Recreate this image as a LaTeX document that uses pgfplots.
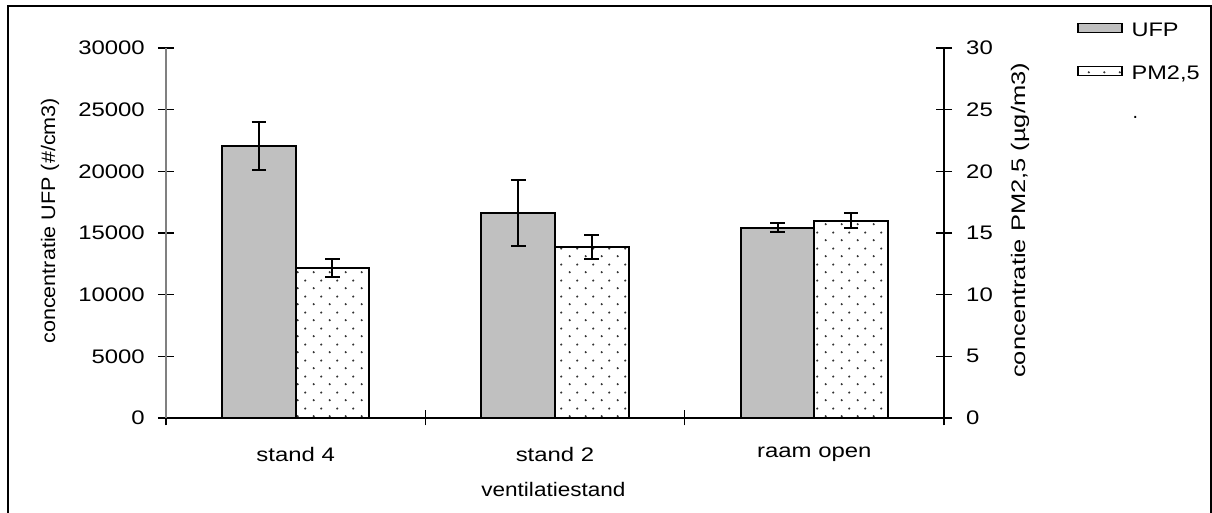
\documentclass[border=0pt]{standalone}
\usepackage{fontspec}
\setmainfont{Liberation Sans}
\usepackage{graphicx}
\usepackage{pgfplots}
\pgfplotsset{compat=1.18}
\usetikzlibrary{patterns}

% sparse dot fill for the PM2,5 bars
\pgfdeclarepatternformonly{sparsedots}{\pgfpointorigin}{\pgfpoint{7.75pt}{7.8pt}}{\pgfpoint{7.75pt}{7.8pt}}{%
  \pgfpathcircle{\pgfpoint{1.9pt}{1.95pt}}{0.6pt}%
  \pgfpathcircle{\pgfpoint{5.8pt}{5.85pt}}{0.6pt}%
  \pgfusepath{fill}}

\definecolor{ufpgray}{RGB}{192,192,192}
\newcommand{\chartfont}{\fontsize{9.8}{11.5}\selectfont}
\newcommand{\wide}[1]{\scalebox{1.2}[1]{#1}}

\pgfplotsset{
  ufpbar/.style={fill=ufpgray, draw=black, line width=1pt},
  pmbar/.style={fill=white, draw=black, line width=1pt,
    postaction={pattern=sparsedots, pattern color=black!80}},
  chartbase/.style={
    at={(0,0)}, anchor=south west,
    scale only axis, width=389pt, height=185pt,
    xmin=-0.5, xmax=2.5, ymin=0,
    ybar, bar width=0.2835,
    tick align=center, major tick length=8pt, minor tick length=7.5pt,
    tick style={black, line width=0.6pt},
    every tick label/.append style={font=\chartfont, xscale=1.22},
    label style={font=\chartfont},
    /pgf/number format/assume math mode=true,
    /pgf/number format/1000 sep={},
    scaled y ticks=false,
    error bars/error bar style={line width=1pt, black},
    error bars/error mark options={rotate=90, mark size=3.67pt, line width=1pt, black},
  },
}

\begin{document}
\begin{tikzpicture}
% left axis: UFP
\begin{axis}[chartbase,
  axis y line*=left, axis x line*=bottom,
  ymax=30000, ytick distance=5000,
  y axis line style={draw=black!50, line width=0.8pt},
  x axis line style={draw=black, line width=0.6pt},
  yticklabel shift=2.3pt,
  xtick={0,1,2}, xticklabels={stand 4, stand 2, raam open},
  major x tick style={draw=none},
  minor xtick={-0.5,0.5,1.5,2.5},
  xticklabel shift=7pt,
  ylabel={concentratie UFP (\#/cm3)},
  ylabel style={at={(axis description cs:-0.1491,0.533)}, anchor=center, xscale=1.1},
  xlabel={ventilatiestand},
  xlabel style={at={(axis description cs:0.498,-0.2127)}, anchor=base, xscale=1.15},
]
\addplot[ufpbar, bar shift=-0.14175,
  error bars/.cd, y dir=both, y explicit]
  coordinates {(0,22080) +- (0,1945) (1,16600) +- (0,2680) (2,15440) +- (0,365)};
\end{axis}

% right axis: PM2,5
\begin{axis}[chartbase,
  axis y line*=right, axis x line=none,
  ymax=30, ytick distance=5,
  y axis line style={draw=black, line width=0.8pt},
  yticklabel shift=2.8pt,
  ylabel={concentratie PM2,5 (µg/m3)},
  ylabel style={at={(axis description cs:1.0977,0.5343)}, anchor=center, xscale=1.3},
  legend style={at={(axis description cs:1.171,1.068)}, anchor=north west,
    draw=none, fill=none, inner sep=0pt, font=\chartfont,
    row sep=13pt, column sep=4.5pt, nodes={inner sep=0pt}},
  legend cell align=left,
  legend image code/.code={\draw[#1, line width=0.6pt] (0pt,-0.6pt) rectangle (22pt,3.9pt);},
]
\addlegendimage{ufpbar}
\addlegendentry{\wide{UFP}}
\addplot[pmbar, bar shift=0.14175,
  error bars/.cd, y dir=both, y explicit]
  coordinates {(0,12.2) +- (0,0.73) (1,13.86) +- (0,0.99) (2,15.99) +- (0,0.61)};
\addlegendentry{\wide{PM2,5}}
\addlegendimage{empty legend}
\addlegendentry{\raisebox{-5pt}{\hspace*{0.5pt}.}}
\end{axis}

% outer chart frame
\draw[line width=1pt] (-79pt,-60pt) rectangle (522.6pt,206pt);
\pgfresetboundingbox
\useasboundingbox (-83pt,-47.5pt) rectangle (523pt,209pt);
\end{tikzpicture}
\end{document}
